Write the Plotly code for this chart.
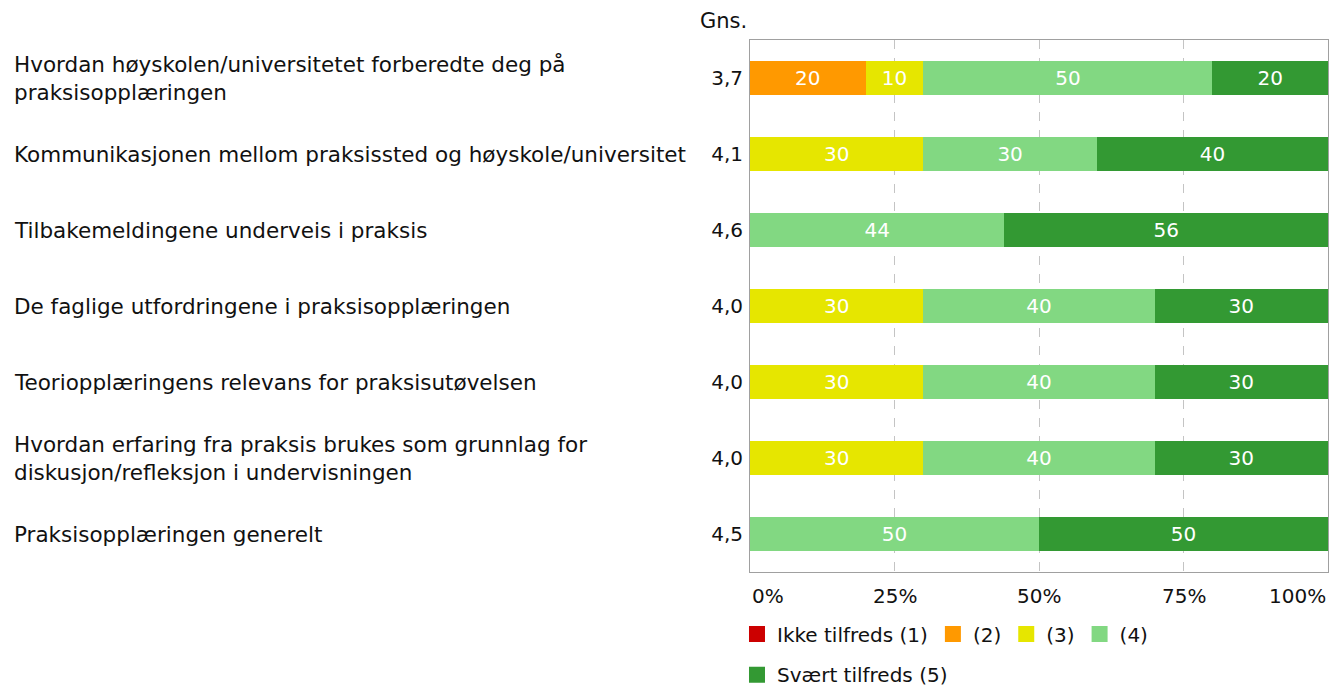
import plotly.graph_objects as go

# spørsmål (kategorier) og gjennomsnitt
sporsmal = [
    "Hvordan høyskolen/universitetet forberedte deg på<br>praksisopplæringen",
    "Kommunikasjonen mellom praksissted og høyskole/universitet",
    "Tilbakemeldingene underveis i praksis",
    "De faglige utfordringene i praksisopplæringen",
    "Teoriopplæringens relevans for praksisutøvelsen",
    "Hvordan erfaring fra praksis brukes som grunnlag for<br>diskusjon/refleksjon i undervisningen",
    "Praksisopplæringen generelt",
]
gns = ["3,7", "4,1", "4,6", "4,0", "4,0", "4,0", "4,5"]

serier = ["Ikke tilfreds (1)", "(2)", "(3)", "(4)", "Svært tilfreds (5)"]
farger = ["#CC0000", "#FF9900", "#E6E600", "#82D882", "#339933"]

v1 = [0, 0, 0, 0, 0, 0, 0]
v2 = [20, 0, 0, 0, 0, 0, 0]
v3 = [10, 30, 0, 30, 30, 30, 0]
v4 = [50, 30, 44, 40, 40, 40, 50]
v5 = [20, 40, 56, 30, 30, 30, 50]
verdier = [v1, v2, v3, v4, v5]

x_ticks = [0, 25, 50, 75, 100]
x_tickt = ["0%", "25%", "50%", "75%", "100%"]

FONT = "DejaVu Sans"
FS = 21.5    # spørsmålstekst
FN = 20      # tall
FL = 20      # legende
TXT = "#111111"

y_idx = list(range(len(sporsmal)))

fig = go.Figure()
for navn, farge, vals in zip(serier, farger, verdier):
    fig.add_trace(go.Bar(
        y=y_idx, x=vals, name=navn, orientation="h",
        marker=dict(color=farge, line=dict(width=0)),
        text=[str(v) if v > 0 else "" for v in vals],
        textposition="inside", insidetextanchor="middle",
        textfont=dict(color="white", size=FN, family=FONT),
        hoverinfo="skip", showlegend=False,
    ))

# legende med større firkanter (to rader som i originalen)
for i, (navn, farge) in enumerate(zip(serier, farger)):
    fig.add_trace(go.Scatter(
        x=[None], y=[None], mode="markers", name=navn,
        marker=dict(symbol="square", size=18, color=farge),
        legend="legend2" if i == len(serier) - 1 else "legend",
        hoverinfo="skip",
    ))

# spørsmålstekster til venstre
for i, s in enumerate(sporsmal):
    fig.add_annotation(
        x=0, xref="paper", xshift=-738, y=i, yref="y",
        text=s, showarrow=False, xanchor="left", align="left",
        font=dict(size=FS, family=FONT, color=TXT),
    )

fig.add_annotation(
    x=0, xref="paper", xshift=-1, y=1, yref="paper", yshift=19,
    text="Gns.", showarrow=False, xanchor="right", yanchor="middle",
    font=dict(size=21, family=FONT, color=TXT),
)

# x-akse etiketter (0% venstrejustert, 100% høyrejustert)
for i, (tv, tt) in enumerate(zip(x_ticks, x_tickt)):
    anchor = "left" if i == 0 else ("right" if i == len(x_ticks) - 1 else "center")
    fig.add_annotation(
        x=tv, xref="x", y=0, yref="paper", yshift=-24,
        text=tt, showarrow=False, xanchor=anchor, yanchor="middle",
        font=dict(size=FN, family=FONT, color=TXT),
    )

leg = dict(
    orientation="h", x=-0.0225, xanchor="left", yanchor="middle",
    font=dict(size=FL, family=FONT, color=TXT),
    traceorder="normal", itemwidth=30, bgcolor="rgba(0,0,0,0)",
)

fig.update_layout(
    barmode="stack",
    bargap=0.56,
    width=1330, height=687,
    margin=dict(l=750, r=2, t=40, b=115, autoexpand=False),
    paper_bgcolor="white", plot_bgcolor="white",
    font=dict(family=FONT, size=FS, color=TXT),
    uniformtext=dict(minsize=10, mode="show"),
    legend=dict(leg, y=-0.1165),
    legend2=dict(leg, y=-0.193),
    xaxis=dict(
        range=[0, 100], tickvals=x_ticks, showticklabels=False,
        showgrid=True, gridcolor="#C4C4C4", griddash="dash", gridwidth=1,
        zeroline=False, showline=True, linecolor="#A0A0A0", mirror=True,
        fixedrange=True,
    ),
    yaxis=dict(
        tickvals=y_idx, ticktext=gns, autorange=False, range=[6.5, -0.5],
        showgrid=False, zeroline=False, showline=True, linecolor="#A0A0A0",
        mirror=True, ticks="", ticklabelstandoff=2,
        tickfont=dict(size=FN, family=FONT, color=TXT), fixedrange=True,
    ),
)

# fjern standardmarg i body så figuren fyller vinduet
fig.write_html(
    "out.html", config={"displayModeBar": False},
    post_script="document.body.style.margin='0';document.body.style.overflow='hidden';",
)
